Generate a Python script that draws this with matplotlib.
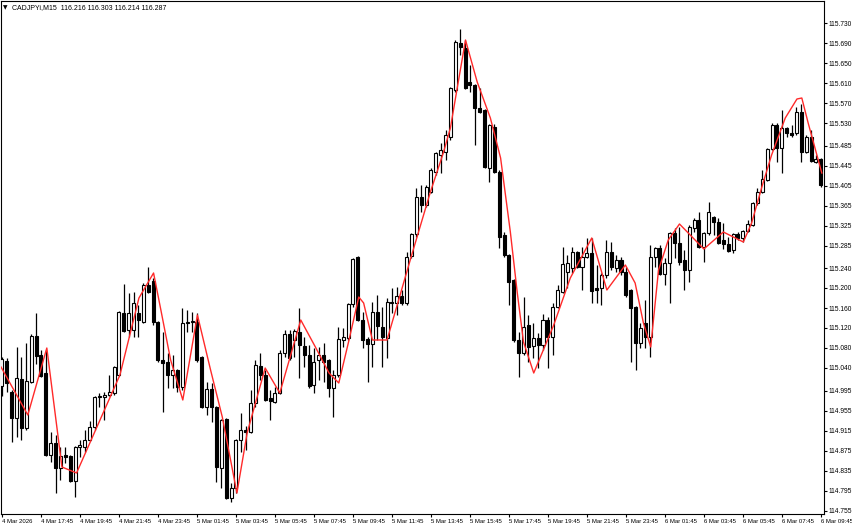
import matplotlib
matplotlib.use("Agg")
import matplotlib.pyplot as plt
import numpy as np

plt.rcParams['font.family'] = ['Liberation Sans', 'DejaVu Sans']

title_text = "CADJPYi,M15  116.216 116.303 116.214 116.287"

opens = [
    115.004, 115.054, 114.992, 114.940, 115.018, 114.920, 115.012, 115.104, 115.066, 115.030,
    114.866, 114.890, 114.840, 114.866, 114.864, 114.814, 114.882, 114.882, 114.896, 114.922,
    114.982, 114.982, 114.986, 114.990, 115.026, 115.150, 115.116, 115.116, 115.150, 115.132,
    115.206, 115.214, 115.132, 115.056, 115.052, 115.026, 115.036, 115.002, 115.130, 115.132,
    115.132, 115.062, 114.962, 114.998, 114.962, 114.840, 114.938, 114.780, 114.800, 114.896,
    114.916, 114.912, 114.970, 115.044, 115.026, 114.980, 114.972, 114.990, 115.070, 115.108,
    115.096, 115.112, 115.084, 115.066, 115.006, 115.056, 115.066, 115.056, 115.000, 115.026,
    115.096, 115.100, 115.168, 115.262, 115.136, 115.098, 115.088, 115.152, 115.122, 115.100,
    115.172, 115.170, 115.184, 115.170, 115.264, 115.308, 115.382, 115.366, 115.392, 115.432,
    115.466, 115.472, 115.502, 115.596, 115.690, 115.680, 115.612, 115.606, 115.560, 115.556,
    115.440, 115.522, 115.432, 115.306, 115.266, 115.216, 115.096, 115.070, 115.126, 115.084,
    115.100, 115.086, 115.136, 115.102, 115.162, 115.192, 115.232, 115.240, 115.272, 115.242,
    115.262, 115.270, 115.200, 115.200, 115.226, 115.272, 115.240, 115.256, 115.232, 115.196,
    115.162, 115.090, 115.130, 115.102, 115.262, 115.280, 115.228, 115.250, 115.310, 115.290,
    115.256, 115.236, 115.320, 115.336, 115.282, 115.310, 115.342, 115.332, 115.296, 115.288,
    115.276, 115.308, 115.300, 115.314, 115.326, 115.370, 115.392, 115.416, 115.478, 115.526,
    115.480, 115.520, 115.510, 115.510, 115.552, 115.472, 115.502, 115.452, 115.458,
]
highs = [
    115.062, 115.060, 114.996, 115.082, 115.062, 115.090, 115.108, 115.150, 115.076, 115.076,
    114.912, 114.906, 114.882, 114.882, 114.866, 114.884, 114.896, 114.916, 114.934, 114.984,
    114.990, 114.992, 115.026, 115.044, 115.154, 115.208, 115.190, 115.192, 115.166, 115.210,
    115.242, 115.220, 115.134, 115.112, 115.070, 115.066, 115.038, 115.160, 115.156, 115.152,
    115.150, 115.064, 115.012, 115.010, 114.964, 114.938, 114.940, 114.810, 114.898, 114.950,
    114.924, 114.996, 115.056, 115.070, 115.036, 114.996, 115.002, 115.076, 115.116, 115.116,
    115.118, 115.160, 115.102, 115.086, 115.080, 115.082, 115.090, 115.058, 115.036, 115.122,
    115.120, 115.170, 115.260, 115.264, 115.152, 115.102, 115.172, 115.186, 115.162, 115.180,
    115.200, 115.202, 115.196, 115.272, 115.310, 115.400, 115.406, 115.406, 115.440, 115.472,
    115.490, 115.516, 115.602, 115.696, 115.718, 115.696, 115.646, 115.608, 115.600, 115.558,
    115.528, 115.528, 115.436, 115.312, 115.268, 115.218, 115.112, 115.182, 115.146, 115.130,
    115.110, 115.148, 115.142, 115.170, 115.206, 115.282, 115.266, 115.282, 115.274, 115.282,
    115.300, 115.300, 115.246, 115.230, 115.296, 115.292, 115.266, 115.262, 115.242, 115.198,
    115.164, 115.130, 115.176, 115.286, 115.282, 115.286, 115.260, 115.312, 115.320, 115.322,
    115.276, 115.326, 115.340, 115.352, 115.312, 115.372, 115.344, 115.340, 115.330, 115.302,
    115.310, 115.312, 115.316, 115.336, 115.372, 115.400, 115.436, 115.480, 115.530, 115.530,
    115.556, 115.522, 115.526, 115.562, 115.568, 115.506, 115.516, 115.466, 115.460,
]
lows = [
    114.984, 114.992, 114.892, 114.902, 114.896, 114.916, 115.010, 115.048, 115.022, 114.864,
    114.852, 114.790, 114.816, 114.850, 114.812, 114.782, 114.862, 114.872, 114.894, 114.916,
    114.962, 114.936, 114.984, 114.986, 115.024, 115.112, 115.102, 115.102, 115.102, 115.130,
    115.190, 115.126, 115.052, 114.952, 115.000, 115.000, 114.992, 114.996, 115.112, 115.112,
    115.052, 114.960, 114.946, 114.932, 114.812, 114.800, 114.778, 114.772, 114.790, 114.872,
    114.876, 114.910, 114.962, 115.016, 114.974, 114.936, 114.970, 114.988, 115.062, 115.056,
    115.062, 115.020, 115.042, 115.000, 114.990, 115.016, 115.012, 114.982, 114.942, 115.022,
    115.082, 115.096, 115.162, 115.134, 115.080, 115.012, 115.042, 115.096, 115.042, 115.060,
    115.150, 115.146, 115.166, 115.166, 115.260, 115.302, 115.352, 115.362, 115.390, 115.426,
    115.430, 115.456, 115.496, 115.592, 115.666, 115.598, 115.592, 115.486, 115.550, 115.440,
    115.412, 115.430, 115.280, 115.262, 115.166, 115.092, 115.022, 115.066, 115.052, 115.060,
    115.040, 115.076, 115.040, 115.066, 115.160, 115.190, 115.200, 115.230, 115.240, 115.196,
    115.260, 115.170, 115.170, 115.166, 115.220, 115.236, 115.232, 115.226, 115.182, 115.052,
    115.036, 115.080, 115.080, 115.062, 115.242, 115.226, 115.206, 115.170, 115.260, 115.246,
    115.196, 115.212, 115.312, 115.280, 115.252, 115.306, 115.306, 115.288, 115.278, 115.272,
    115.270, 115.296, 115.292, 115.312, 115.324, 115.366, 115.390, 115.414, 115.476, 115.452,
    115.430, 115.502, 115.502, 115.506, 115.452, 115.470, 115.452, 115.450, 115.402,
]
closes = [
    115.058, 115.010, 114.940, 115.020, 114.920, 115.014, 115.104, 115.064, 115.024, 114.866,
    114.890, 114.840, 114.864, 114.862, 114.814, 114.882, 114.886, 114.896, 114.922, 114.982,
    114.984, 114.986, 114.992, 115.042, 115.152, 115.114, 115.150, 115.170, 115.136, 115.206,
    115.192, 115.132, 115.056, 115.050, 115.026, 115.036, 115.002, 115.130, 115.132, 115.134,
    115.056, 114.962, 114.998, 114.962, 114.842, 114.936, 114.780, 114.800, 114.896, 114.916,
    114.912, 114.970, 115.046, 115.026, 114.976, 114.974, 114.990, 115.070, 115.108, 115.060,
    115.114, 115.086, 115.066, 115.004, 115.052, 115.066, 115.052, 115.000, 115.026, 115.098,
    115.102, 115.168, 115.258, 115.136, 115.096, 115.088, 115.152, 115.124, 115.102, 115.172,
    115.170, 115.184, 115.170, 115.262, 115.308, 115.382, 115.366, 115.402, 115.436, 115.470,
    115.476, 115.506, 115.600, 115.692, 115.682, 115.600, 115.606, 115.560, 115.552, 115.442,
    115.526, 115.432, 115.302, 115.266, 115.212, 115.096, 115.070, 115.122, 115.082, 115.100,
    115.086, 115.136, 115.102, 115.162, 115.196, 115.248, 115.250, 115.272, 115.242, 115.262,
    115.270, 115.194, 115.196, 115.226, 115.272, 115.242, 115.256, 115.232, 115.186, 115.160,
    115.090, 115.120, 115.102, 115.262, 115.280, 115.228, 115.250, 115.310, 115.290, 115.252,
    115.236, 115.322, 115.336, 115.282, 115.310, 115.352, 115.332, 115.290, 115.288, 115.274,
    115.308, 115.300, 115.314, 115.328, 115.370, 115.392, 115.418, 115.478, 115.526, 115.480,
    115.520, 115.510, 115.506, 115.552, 115.472, 115.502, 115.454, 115.458, 115.406,
]

# indicator line (red), vertices: bar position and value
red_bar = [-0.2, 5.3, 9.2, 12.3, 15.3, 24.2, 28.1, 31.1, 32.6, 34.6, 37.1, 40.1, 42.8, 45.2,
           46.9, 48.2, 50.3, 54.0, 57.0, 61.3, 64.3, 67.1, 69.1, 71.2, 73.2, 74.2, 76.0, 79.0,
           84.0, 87.9, 90.6, 92.0, 93.4, 95.1, 97.5, 100.2, 102.3, 104.3, 105.7, 107.0, 109.1,
           113.2, 116.6, 121.0, 124.1, 127.9, 129.9, 131.6, 133.1, 134.7, 136.7, 139.0, 144.0,
           148.0, 152.1, 153.8, 155.9, 157.9, 160.7, 163.1, 164.1, 165.4, 168.2]
red_val = [115.042, 114.946, 115.080, 114.842, 114.830, 115.026, 115.180, 115.230, 115.156,
           115.056, 114.976, 115.146, 115.036, 114.942, 114.856, 114.790, 114.910, 115.040,
           114.990, 115.136, 115.082, 115.030, 115.010, 115.096, 115.182, 115.170, 115.096,
           115.096, 115.264, 115.392, 115.472, 115.520, 115.600, 115.696, 115.612, 115.540,
           115.460, 115.312, 115.192, 115.092, 115.030, 115.126, 115.220, 115.300, 115.196,
           115.246, 115.210, 115.130, 115.082, 115.236, 115.296, 115.328, 115.278, 115.312,
           115.292, 115.330, 115.402, 115.466, 115.540, 115.578, 115.580, 115.530, 115.430]

price_ticks = [115.730, 115.690, 115.650, 115.610, 115.570, 115.530, 115.485, 115.445,
               115.405, 115.365, 115.325, 115.285, 115.240, 115.200, 115.160, 115.120,
               115.080, 115.040, 114.995, 114.955, 114.915, 114.875, 114.835, 114.795, 114.755]
price_labels = ["%.3f" % v for v in price_ticks]

time_labels = ["4 Mar 2026", "4 Mar 17:45", "4 Mar 19:45", "4 Mar 21:45", "4 Mar 23:45",
               "5 Mar 01:45", "5 Mar 03:45", "5 Mar 05:45", "5 Mar 07:45", "5 Mar 09:45",
               "5 Mar 11:45", "5 Mar 13:45", "5 Mar 15:45", "5 Mar 17:45", "5 Mar 19:45",
               "5 Mar 21:45", "5 Mar 23:45", "6 Mar 01:45", "6 Mar 03:45", "6 Mar 05:45",
               "6 Mar 07:45", "6 Mar 09:45"]
bars_per_label = 8

W, H = 852, 528
fig = plt.figure(figsize=(W / 100, H / 100), dpi=100)
fig.patch.set_facecolor('white')
ax = fig.add_axes([1 / W, 14 / H, 823 / W, 513 / H])

o = np.array(opens); h = np.array(highs); l = np.array(lows); c = np.array(closes)
n = len(o)
x = np.arange(n)
up = c >= o

ax.vlines(x, l, h, color='black', lw=0.9, zorder=2)
bb = np.minimum(o, c)
bh = np.maximum(np.abs(c - o), 0.0009)
ax.bar(x[up], bh[up], bottom=bb[up], width=0.62, facecolor='white',
       edgecolor='black', linewidth=0.8, zorder=3)
ax.bar(x[~up], bh[~up], bottom=bb[~up], width=0.62, facecolor='black',
       edgecolor='black', linewidth=0.8, zorder=3)

ax.plot(red_bar, red_val, color='#ff2a2a', lw=1.0, zorder=4)

ax.set_xlim(-0.2, 168.65)
ax.set_ylim(114.748, 115.774)

ax.yaxis.tick_right()
ax.set_yticks(price_ticks)
ax.set_yticklabels(price_labels)
ax.tick_params(axis='y', direction='out', length=2.5, width=0.8, labelsize=4.8, pad=1.0,
               colors='black')

ax.set_xticks(np.arange(0, n, bars_per_label))
ax.set_xticklabels(time_labels)
for lab in ax.get_xticklabels():
    lab.set_ha('left')
ax.tick_params(axis='x', direction='out', length=2.5, width=0.8, labelsize=4.3, pad=1.2,
               colors='black')

for s in ax.spines.values():
    s.set_linewidth(0.8)
    s.set_color('black')

fig.text(3 / W, 1 - 8 / H, "\u25BC", fontsize=4.2, va='center', ha='left',
         family=['DejaVu Sans'])
fig.text(12 / W, 1 - 8 / H, title_text, fontsize=5.0, va='center', ha='left')

fig.savefig("out.png", dpi=100, facecolor='white')
